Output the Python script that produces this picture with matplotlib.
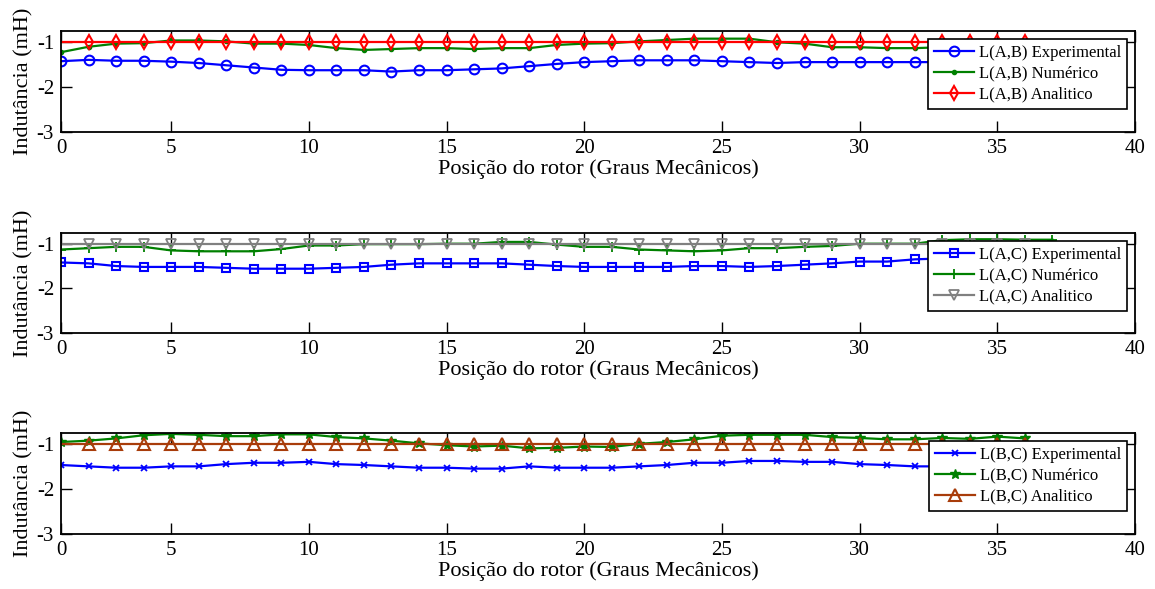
import numpy as np
import matplotlib
matplotlib.use("Agg")
import matplotlib.pyplot as plt

plt.rcParams["font.family"] = ["Liberation Serif", "DejaVu Serif"]

# rotor position samples (plotted index), tick labels in mechanical degrees
pos = list(range(1, 37))
pos_ac_num = list(range(1, 38))
xtick_pos = [1, 5, 10, 15, 20, 25, 30, 35, 40]
xtick_labels = ["0", "5", "10", "15", "20", "25", "30", "35", "40"]
ytick_pos = [-3, -2, -1]

# L(A,B)
ab_exp = [-1.43, -1.40, -1.42, -1.42, -1.44, -1.47, -1.52, -1.57, -1.62, -1.63,
          -1.63, -1.63, -1.66, -1.63, -1.63, -1.61, -1.59, -1.54, -1.49, -1.45,
          -1.43, -1.41, -1.41, -1.41, -1.43, -1.45, -1.47, -1.45, -1.45, -1.45,
          -1.45, -1.45, -1.45, -1.44, -1.44, -1.43]
ab_num = [-1.23, -1.11, -1.04, -1.03, -0.97, -0.97, -0.99, -1.04, -1.04, -1.07,
          -1.14, -1.18, -1.16, -1.14, -1.14, -1.16, -1.14, -1.14, -1.07, -1.04,
          -1.03, -0.99, -0.96, -0.93, -0.93, -0.93, -1.01, -1.04, -1.12, -1.12,
          -1.14, -1.14, -1.12, -1.08, -1.05, -1.02]
ab_ana = [-1.0] * 36

# L(A,C)
ac_exp = [-1.42, -1.44, -1.50, -1.52, -1.52, -1.52, -1.54, -1.56, -1.56, -1.56,
          -1.54, -1.52, -1.47, -1.44, -1.44, -1.44, -1.44, -1.47, -1.50, -1.52,
          -1.52, -1.52, -1.52, -1.50, -1.50, -1.52, -1.50, -1.47, -1.44, -1.40,
          -1.40, -1.35, -1.33, -1.32, -1.33, -1.35]
ac_num = [-1.13, -1.10, -1.07, -1.07, -1.15, -1.17, -1.17, -1.17, -1.12, -1.04,
          -1.04, -1.01, -1.01, -1.01, -1.00, -1.00, -0.96, -0.96, -1.02, -1.07,
          -1.07, -1.13, -1.15, -1.17, -1.15, -1.10, -1.10, -1.07, -1.05, -1.00,
          -1.00, -1.00, -0.92, -0.90, -0.90, -0.91, -0.91]
ac_ana = [-1.0] * 36

# L(B,C)
bc_exp = [-1.47, -1.50, -1.53, -1.53, -1.50, -1.50, -1.45, -1.42, -1.42, -1.40,
          -1.45, -1.47, -1.50, -1.53, -1.53, -1.55, -1.55, -1.50, -1.53, -1.53,
          -1.53, -1.50, -1.47, -1.42, -1.42, -1.38, -1.38, -1.40, -1.40, -1.45,
          -1.47, -1.50, -1.50, -1.48, -1.45, -1.45]
bc_num = [-0.96, -0.93, -0.88, -0.81, -0.78, -0.80, -0.83, -0.83, -0.79, -0.79,
          -0.85, -0.88, -0.93, -0.99, -1.03, -1.06, -1.04, -1.10, -1.09, -1.06,
          -1.07, -1.00, -0.96, -0.90, -0.82, -0.80, -0.80, -0.80, -0.85, -0.87,
          -0.90, -0.90, -0.87, -0.89, -0.84, -0.88]
bc_ana = [-1.0] * 36

BROWN = "#A83C0A"

fig = plt.figure(figsize=(11.55, 5.89), dpi=100)
W, H = 1155.0, 589.0
panels = [(31, 132), (233, 333), (433, 534)]
axes = [fig.add_axes([61 / W, 1 - b / H, 1074 / W, (b - t) / H]) for t, b in panels]

ax = axes[0]
ax.plot(pos, ab_exp, color="blue", lw=1.6, marker="o", ms=7, mfc="none", mew=1.5,
        label="L(A,B) Experimental")
ax.plot(pos, ab_num, color="#008000", lw=1.6, marker=".", ms=6,
        label="L(A,B) Numérico")
ax.plot(pos, ab_ana, color="red", lw=1.6, marker="d", ms=7.5, mfc="none", mew=1.5,
        markevery=slice(1, None), label="L(A,B) Analitico")

ax = axes[1]
ax.plot(pos, ac_exp, color="blue", lw=1.6, marker="s", ms=6, mfc="none", mew=1.5,
        label="L(A,C) Experimental")
ax.plot(pos_ac_num, ac_num, color="#008000", lw=1.6, marker="+", ms=7, mew=1.3,
        label="L(A,C) Numérico")
ax.plot(pos, ac_ana, color="#808080", lw=1.6, marker="v", ms=7, mfc="none", mew=1.3,
        markevery=slice(1, None), label="L(A,C) Analitico")

ax = axes[2]
ax.plot(pos, bc_exp, color="blue", lw=1.6, marker="x", ms=4, mew=1.3,
        label="L(B,C) Experimental")
ax.plot(pos, bc_num, color="#008000", lw=1.6, marker="*", ms=7,
        label="L(B,C) Numérico")
ax.plot(pos, bc_ana, color=BROWN, lw=1.6, marker="^", ms=8, mfc="none", mew=1.5,
        markevery=slice(1, None), label="L(B,C) Analitico")

for ax in axes:
    ax.set_xlim(1, 40)
    ax.set_ylim(-3, -0.76)
    ax.set_xticks(xtick_pos)
    ax.set_xticklabels(xtick_labels)
    ax.set_yticks(ytick_pos)
    ax.set_yticklabels([str(v) for v in ytick_pos])
    ax.tick_params(direction="in", length=8, width=1, top=True, right=True,
                   labelsize=15, pad=5)
    for s in ax.spines.values():
        s.set_linewidth(1.3)
    ax.set_xlabel("Posição do rotor (Graus Mecânicos)", fontsize=16, labelpad=1)
    ax.set_ylabel("Indutância (mH)", fontsize=16, labelpad=2)
    leg = ax.legend(loc="upper right", bbox_to_anchor=(0.9926, 0.921),
                    fontsize=12, frameon=True, fancybox=False, framealpha=1,
                    edgecolor="black", borderaxespad=0, handlelength=2.4,
                    handletextpad=0.3, labelspacing=0.3, borderpad=0.35)
    leg.get_frame().set_linewidth(1.2)

fig.savefig("out.png", dpi=100)
